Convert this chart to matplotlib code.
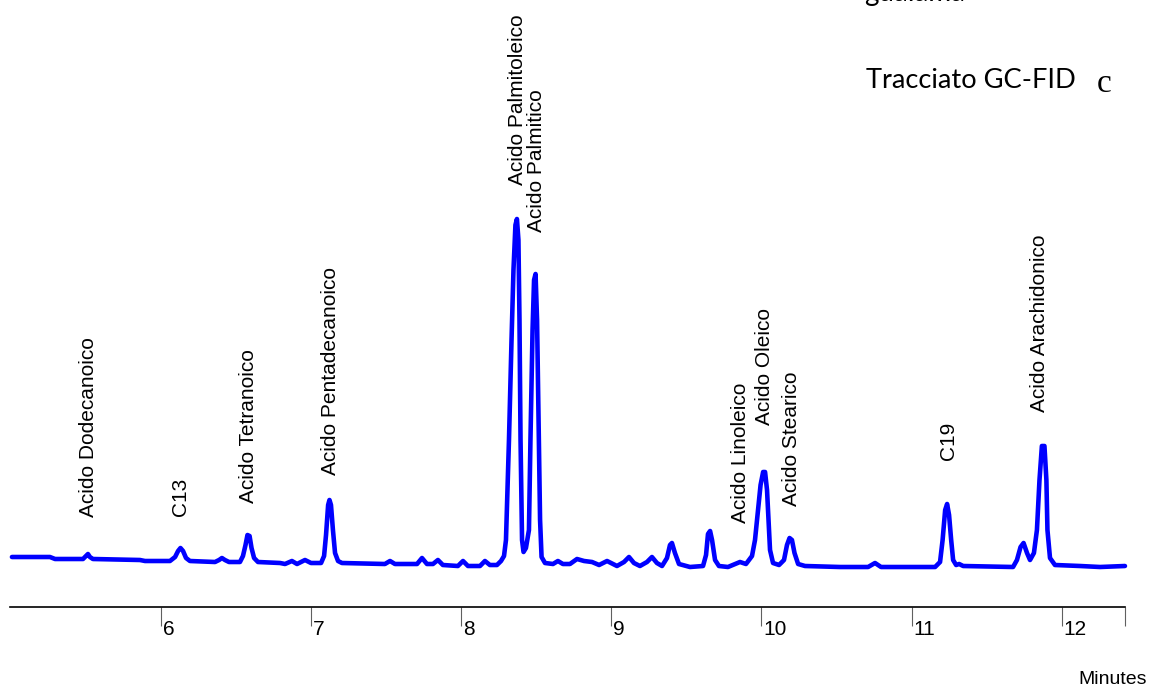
import matplotlib
matplotlib.use("Agg")
import matplotlib.pyplot as plt
from matplotlib import transforms

# ---- data (time in minutes, detector signal a.u.) ----
time_min = [5.011, 5.264, 5.298, 5.484, 5.504, 5.517, 5.530, 5.550, 5.863, 5.897,
            6.063, 6.097, 6.117, 6.133, 6.150, 6.170, 6.196, 6.363, 6.390, 6.409,
            6.429, 6.456, 6.529, 6.549, 6.566, 6.579, 6.593, 6.606, 6.623, 6.649,
            6.796, 6.829, 6.875, 6.909, 6.962, 7.002, 7.069, 7.089, 7.102, 7.116,
            7.125, 7.135, 7.148, 7.162, 7.182, 7.208, 7.494, 7.528, 7.561, 7.708,
            7.741, 7.774, 7.814, 7.847, 7.880, 7.980, 8.014, 8.047, 8.127, 8.160,
            8.193, 8.240, 8.267, 8.287, 8.300, 8.320, 8.337, 8.350, 8.363, 8.373,
            8.383, 8.390, 8.397, 8.407, 8.417, 8.433, 8.453, 8.463, 8.477, 8.487,
            8.497, 8.507, 8.517, 8.527, 8.537, 8.560, 8.613, 8.646, 8.679, 8.726,
            8.773, 8.820, 8.873, 8.920, 8.973, 9.039, 9.086, 9.119, 9.152, 9.192,
            9.239, 9.272, 9.305, 9.339, 9.372, 9.392, 9.405, 9.425, 9.452, 9.525,
            9.612, 9.632, 9.645, 9.659, 9.672, 9.692, 9.718, 9.778, 9.825, 9.858,
            9.898, 9.938, 9.958, 9.978, 9.995, 10.012, 10.025, 10.038, 10.048, 10.058,
            10.078, 10.118, 10.151, 10.171, 10.188, 10.204, 10.221, 10.245, 10.291, 10.524,
            10.657, 10.711, 10.757, 10.797, 11.157, 11.190, 11.207, 11.224, 11.237, 11.250,
            11.264, 11.277, 11.297, 11.317, 11.344, 11.676, 11.702, 11.726, 11.746, 11.769,
            11.789, 11.815, 11.835, 11.852, 11.868, 11.885, 11.898, 11.905, 11.922, 11.955,
            12.122, 12.255, 12.421]
signal = [51, 51, 49, 49, 52, 54, 51, 49, 48, 47,
          47, 51, 57, 60, 57, 50, 47, 46, 48, 50,
          48, 46, 46, 52, 63, 73, 72, 60, 50, 46,
          45, 44, 47, 44, 48, 45, 45, 52, 73, 103,
          108, 103, 78, 55, 47, 45, 44, 47, 44, 44,
          50, 44, 44, 48, 43, 42, 47, 42, 42, 47,
          43, 43, 47, 52, 68, 168, 268, 338, 383, 389,
          368, 288, 168, 68, 56, 60, 78, 168, 278, 328,
          334, 288, 188, 88, 51, 45, 44, 47, 44, 44,
          49, 47, 46, 43, 47, 42, 46, 51, 45, 42,
          46, 51, 45, 42, 50, 63, 65, 55, 44, 41,
          42, 53, 74, 77, 68, 48, 42, 41, 44, 46,
          44, 52, 68, 98, 123, 136, 136, 118, 88, 58,
          45, 43, 48, 63, 70, 68, 55, 44, 42, 41,
          41, 41, 45, 41, 41, 46, 68, 98, 104, 93,
          68, 48, 43, 44, 42, 41, 48, 61, 65, 55,
          48, 55, 78, 128, 162, 162, 128, 78, 50, 43,
          42, 41, 42]

peak_names = ["Acido Dodecanoico", "C13", "Acido Tetranoico", "Acido Pentadecanoico",
              "Acido Palmitoleico", "Acido Palmitico", "Acido Linoleico", "Acido Oleico",
              "Acido Stearico", "C19", "Acido Arachidonico"]
x_ticks = [6, 7, 8, 9, 10, 11, 12]
x_range = [5.0, 12.42]

# ---- layout (label anchors: time, height where the rotated text starts) ----
label_anchor = [(5.52, 91), (6.13, 92), (6.586, 105), (7.129, 133),
                (8.374, 423), (8.503, 376), (9.861, 85), (10.021, 183),
                (10.201, 102), (11.246, 148), (11.852, 196)]

W, H = 1156, 689
fig = plt.figure(figsize=(W / 100, H / 100), dpi=100)
ax_left, ax_right, ax_bottom = 10.3, 1124.8, 607
ax = fig.add_axes([ax_left / W, (H - ax_bottom) / H, (ax_right - ax_left) / W, ax_bottom / H])
ax.patch.set_visible(False)

ax.plot(time_min, signal, color="#0000ff", lw=3.3,
        solid_joinstyle="round", solid_capstyle="round", clip_on=False)
ax.set_xlim(*x_range)
ax.set_ylim(1, ax_bottom + 1)

for side in ["top", "right", "left"]:
    ax.spines[side].set_visible(False)
ax.spines["bottom"].set_linewidth(1.2)
ax.set_yticks([])

narrow = ["Liberation Sans Narrow", "Liberation Sans"]
ax.set_xticks(x_ticks + [x_range[1]], labels=[str(t) for t in x_ticks] + [""])
ax.tick_params(axis="x", direction="out", length=14, width=0.8, color="#606060",
               pad=-4.5, labelsize=15)
offset = transforms.ScaledTranslation(2 / 100, 0, fig.dpi_scale_trans)
for lab in ax.get_xticklabels():
    lab.set_horizontalalignment("left")
    lab.set_fontfamily(narrow)
    lab.set_transform(lab.get_transform() + offset)

for name, (t, h) in zip(peak_names, label_anchor):
    ax.text(t, h, name, rotation=90, ha="center", va="bottom",
            fontsize=15, family="Liberation Sans", color="black")

fig.text(1147 / W, 1 - 684 / H, "Minutes", ha="right", va="baseline",
         fontsize=14, family=narrow)
fig.text(866 / W, 1 - 88 / H, "Tracciato GC-FID", ha="left", va="baseline",
         fontsize=19.6, family="Lato")
fig.text(1097 / W, 1 - 92 / H, "c", ha="left", va="baseline",
         fontsize=24, family="Liberation Serif")
fig.text(864 / W, 1 - 1 / H, "guaiama", ha="left", va="baseline",
         fontsize=20, family="Lato")

fig.savefig("out.png", dpi=100)
